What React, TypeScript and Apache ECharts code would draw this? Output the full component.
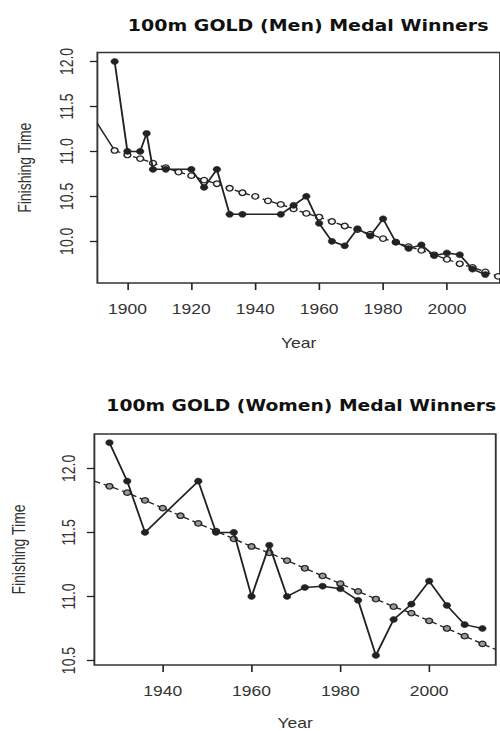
import React, { useEffect, useRef } from "react";
import * as echarts from "echarts";

// ---- Men 100m gold ----
const menYears = [1896, 1900, 1904, 1906, 1908, 1912, 1920, 1924, 1928, 1932, 1936, 1948, 1952, 1956, 1960, 1964, 1968, 1972, 1976, 1980, 1984, 1988, 1992, 1996, 2000, 2004, 2008, 2012];
const menTimes = [12.0, 11.0, 11.0, 11.2, 10.8, 10.8, 10.8, 10.6, 10.8, 10.3, 10.3, 10.3, 10.4, 10.5, 10.2, 10.0, 9.95, 10.14, 10.06, 10.25, 9.99, 9.92, 9.96, 9.84, 9.87, 9.85, 9.69, 9.63];
const menTrendYears = [1896, 1900, 1904, 1908, 1912, 1916, 1920, 1924, 1928, 1932, 1936, 1940, 1944, 1948, 1952, 1956, 1960, 1964, 1968, 1972, 1976, 1980, 1984, 1988, 1992, 1996, 2000, 2004, 2008, 2012, 2016];
const menTrendTimes = [11.01, 10.96, 10.92, 10.87, 10.82, 10.77, 10.73, 10.68, 10.64, 10.59, 10.54, 10.50, 10.45, 10.41, 10.36, 10.31, 10.27, 10.22, 10.17, 10.13, 10.08, 10.03, 9.99, 9.94, 9.90, 9.85, 9.80, 9.75, 9.71, 9.66, 9.61];
const menLeadYears = [1890.6, 1896];
const menLeadTimes = [11.31, 11.01];
const menXTicks = [1900, 1920, 1940, 1960, 1980, 2000];
const menYTicks = [10.0, 10.5, 11.0, 11.5, 12.0];

// ---- Women 100m gold ----
const womenYears = [1928, 1932, 1936, 1948, 1952, 1956, 1960, 1964, 1968, 1972, 1976, 1980, 1984, 1988, 1992, 1996, 2000, 2004, 2008, 2012];
const womenTimes = [12.2, 11.9, 11.5, 11.9, 11.5, 11.5, 11.0, 11.4, 11.0, 11.07, 11.08, 11.06, 10.97, 10.54, 10.82, 10.94, 11.12, 10.93, 10.78, 10.75];
const womenTrendYears = [1928, 1932, 1936, 1940, 1944, 1948, 1952, 1956, 1960, 1964, 1968, 1972, 1976, 1980, 1984, 1988, 1992, 1996, 2000, 2004, 2008, 2012];
const womenTrendTimes = [11.86, 11.81, 11.75, 11.69, 11.63, 11.57, 11.51, 11.45, 11.39, 11.34, 11.28, 11.22, 11.16, 11.10, 11.04, 10.98, 10.92, 10.87, 10.81, 10.75, 10.69, 10.63];
const womenTrendEdgeYears = [1924.6, 2015.0];
const womenTrendEdgeTimes = [11.9, 10.586];
const womenXTicks = [1940, 1960, 1980, 2000];
const womenYTicks = [10.5, 11.0, 11.5, 12.0];

const titles = ["100m GOLD (Men) Medal Winners", "100m GOLD (Women) Medal Winners"];
const xName = "Year";
const yName = "Finishing Time";

const INK = "#222";
const LABEL = "#333";
const FONT = "'Liberation Sans', Arial, sans-serif";
const TITLE_FONT = "'DejaVu Sans', Verdana, sans-serif";

function pairs(xs: number[], ys: number[]) {
  return xs.map((x, i) => [x, ys[i]]);
}

export default function App() {
  const ref = useRef<HTMLDivElement>(null);

  useEffect(() => {
    if (!ref.current) return;
    const chart = echarts.init(ref.current, null, { renderer: "svg" });

    const xAxisBase = (ticks: number[], min: number, max: number, gridIndex: number, nameGap: number) => ({
      type: "value",
      gridIndex,
      min,
      max,
      name: xName,
      nameLocation: "middle",
      nameGap,
      nameTextStyle: { color: LABEL, fontSize: 14, fontFamily: FONT },
      axisLine: { show: false },
      splitLine: { show: false },
      axisTick: { show: true, inside: false, length: 7, customValues: ticks, lineStyle: { color: INK, width: 1.3 } },
      axisLabel: { show: true, margin: 19, color: LABEL, fontSize: 14, fontFamily: FONT, customValues: ticks, formatter: (v: number) => String(v) },
    });

    const yAxisBase = (ticks: number[], min: number, max: number, gridIndex: number, nameGap: number, margin: number) => ({
      type: "value",
      gridIndex,
      min,
      max,
      name: yName,
      nameLocation: "middle",
      nameGap,
      nameTextStyle: { color: LABEL, fontSize: 14, fontFamily: FONT },
      axisLine: { show: false },
      splitLine: { show: false },
      axisTick: { show: true, inside: false, length: 6, customValues: ticks, lineStyle: { color: INK, width: 1.3 } },
      axisLabel: { show: true, rotate: 90, margin, color: LABEL, fontSize: 14, fontFamily: FONT, customValues: ticks, formatter: (v: number) => v.toFixed(1) },
    });

    const dataStyle = {
      type: "line",
      symbol: "circle",
      symbolSize: 6,
      showSymbol: true,
      lineStyle: { color: INK, width: 1.5 },
      itemStyle: { color: INK, borderColor: INK, borderWidth: 0.5 },
      clip: true,
      z: 4,
    };

    const trendStyle = (fill: string) => ({
      type: "line",
      symbol: "circle",
      symbolSize: 5.5,
      showSymbol: true,
      lineStyle: { color: INK, width: 1.3, type: [5, 3] },
      itemStyle: { color: fill, borderColor: INK, borderWidth: 1.2 },
      clip: true,
      z: 3,
    });

    const womenTrendData: any[] = [
      { value: [womenTrendEdgeYears[0], womenTrendEdgeTimes[0]], symbol: "none" },
      ...pairs(womenTrendYears, womenTrendTimes),
      { value: [womenTrendEdgeYears[1], womenTrendEdgeTimes[1]], symbol: "none" },
    ];

    chart.setOption({
      animation: false,
      backgroundColor: "#fff",
      title: [
        {
          text: titles[0],
          left: 241.5,
          top: 13,
          textAlign: "center",
          textStyle: { fontFamily: TITLE_FONT, fontWeight: "bold", fontSize: 15.2, color: "#111" },
        },
        {
          text: titles[1],
          left: 236,
          top: 393,
          textAlign: "center",
          textStyle: { fontFamily: TITLE_FONT, fontWeight: "bold", fontSize: 15.0, color: "#111" },
        },
      ],
      grid: [
        { left: 77.9, top: 52.5, width: 325.1, height: 230.5, show: true, borderColor: "#333", borderWidth: 1.5, backgroundColor: "transparent" },
        { left: 75.5, top: 434, width: 321.1, height: 231, show: true, borderColor: "#333", borderWidth: 1.5, backgroundColor: "transparent" },
      ],
      xAxis: [
        xAxisBase(menXTicks, 1890.6, 2016.6, 0, 53),
        xAxisBase(womenXTicks, 1924.6, 2015.0, 1, 51),
      ],
      yAxis: [
        yAxisBase(menYTicks, 9.536, 12.1, 0, 51, 17),
        yAxisBase(womenYTicks, 10.465, 12.268, 1, 53, 13),
      ],
      series: [
        {
          ...trendStyle("#f4f4f4"),
          xAxisIndex: 0,
          yAxisIndex: 0,
          data: pairs(menTrendYears, menTrendTimes),
        },
        {
          type: "line",
          xAxisIndex: 0,
          yAxisIndex: 0,
          symbol: "none",
          lineStyle: { color: INK, width: 1.3 },
          data: pairs(menLeadYears, menLeadTimes),
          z: 3,
        },
        {
          ...dataStyle,
          xAxisIndex: 0,
          yAxisIndex: 0,
          data: pairs(menYears, menTimes),
        },
        {
          ...trendStyle("#9a9a9a"),
          xAxisIndex: 1,
          yAxisIndex: 1,
          data: womenTrendData,
        },
        {
          ...dataStyle,
          xAxisIndex: 1,
          yAxisIndex: 1,
          data: pairs(womenYears, womenTimes),
        },
      ],
    });

    return () => chart.dispose();
  }, []);

  return (
    <div
      style={{
        position: "absolute",
        left: 0,
        top: 0,
        width: 500,
        height: 731,
        overflow: "hidden",
        background: "#fff",
      }}
    >
      <div
        ref={ref}
        style={{
          width: 400,
          height: 731,
          transform: "scaleX(1.25)",
          transformOrigin: "0 0",
        }}
      />
    </div>
  );
}
